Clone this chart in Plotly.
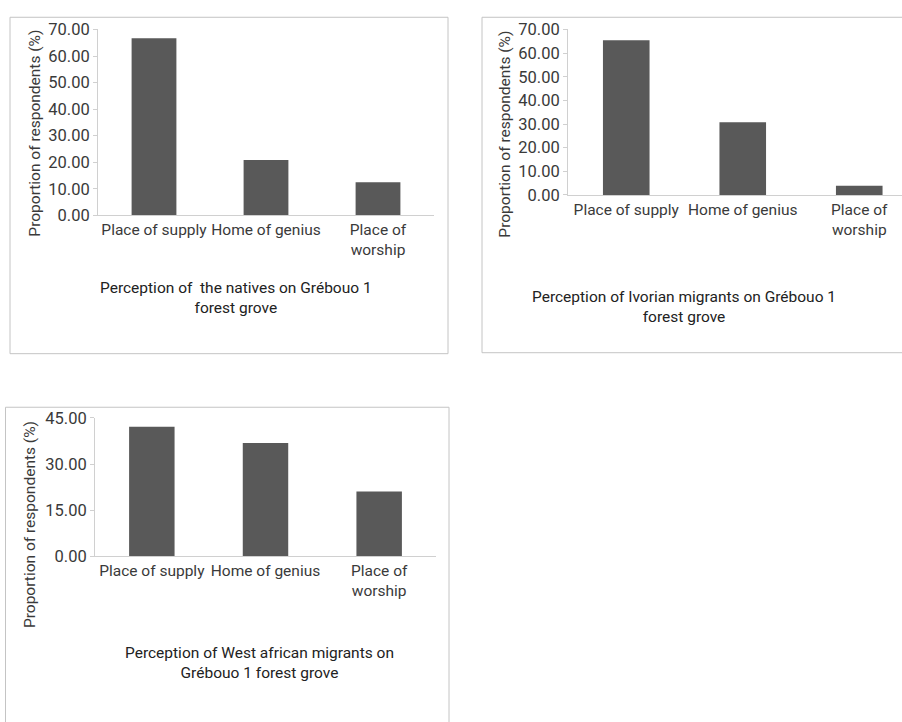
import plotly.graph_objects as go

W, H = 902, 722

def px(x):
    return x / W

def py(y):
    return 1 - y / H

# ---- data ----
categories = ["Place of supply", "Home of genius", "Place of<br>worship"]
natives = [66.67, 20.83, 12.50]
ivorian_migrants = [65.38, 30.77, 3.85]
west_african_migrants = [42.11, 36.84, 21.05]

titles = [
    "Perception of  the natives on Grébouo 1<br>forest grove",
    "Perception of Ivorian migrants on Grébouo 1<br>forest grove",
    "Perception of West african migrants on<br>Grébouo 1 forest grove",
]
y_title = "Proportion of respondents (%)"

BAR = "#595959"
TXT = "#3a3a3a"
AX = "#d0d0d0"
BOX = "#c4c4c4"
FONT = "Roboto"

fig = go.Figure()
for i, vals in enumerate([natives, ivorian_migrants, west_african_migrants]):
    sfx = "" if i == 0 else str(i + 1)
    fig.add_trace(go.Bar(x=categories, y=vals, width=0.4, marker=dict(color=BAR, line=dict(width=0)),
                         xaxis="x" + sfx, yaxis="y" + sfx, showlegend=False, hoverinfo="x+y"))

def xax(domain, rng):
    return dict(domain=domain, type="category", range=rng, showline=True, linecolor=AX, linewidth=1,
                ticks="", showgrid=False, zeroline=False,
                tickfont=dict(family=FONT, size=15.5, color=TXT), fixedrange=True)

def yax(domain, rng, dtick, anchor):
    return dict(domain=domain, range=rng, dtick=dtick, tick0=0, tickformat=".2f", showline=True,
                linecolor=AX, linewidth=1, ticks="outside", ticklen=4, tickcolor=AX,
                showgrid=False, zeroline=False, anchor=anchor,
                tickfont=dict(family=FONT, size=16.5, color=TXT), fixedrange=True)

layout = dict(
    width=W, height=H, margin=dict(l=0, r=0, t=0, b=0),
    paper_bgcolor="white", plot_bgcolor="white", bargap=0.6,
    font=dict(family=FONT, color=TXT),
    xaxis=xax([px(98), px(434)], [-0.5, 2.5]) | dict(anchor="y"),
    yaxis=yax([py(212), py(21)], [0, 70], 10, "x"),
    xaxis2=xax([px(568), 1.0], [-0.5, -0.5 + (902 - 568) / 116.5]) | dict(anchor="y2"),
    yaxis2=yax([py(191), py(21)], [0, 70], 10, "x2"),
    xaxis3=xax([px(95), px(436)], [-0.5, 2.5]) | dict(anchor="y3"),
    yaxis3=yax([py(562), py(420)], [0, 45], 15, "x3"),
)
fig.update_layout(**layout)

# panel boxes
boxes = [(10, 8.5, 448, 354), (482, 8.5, 960, 353), (5.5, 409, 449, 760)]
for x0, y0, x1, y1 in boxes:
    fig.add_shape(type="rect", xref="paper", yref="paper", x0=px(x0), x1=px(x1), y0=py(y0), y1=py(y1),
                  line=dict(color=BOX, width=1), fillcolor="rgba(0,0,0,0)", layer="below")

# chart titles (below each plot)
title_pos = [(236, 297), (684, 306), (259, 672)]
for t, (cx, cy) in zip(titles, title_pos):
    fig.add_annotation(text=t, xref="paper", yref="paper", x=px(cx), y=py(cy), showarrow=False,
                       xanchor="center", yanchor="middle", align="center",
                       font=dict(family=FONT, size=15.5, color="#222222"))

# y-axis titles
ytitle_pos = [(35, 128), (505, 128), (30, 530)]
for cx, cy in ytitle_pos:
    fig.add_annotation(text=y_title, xref="paper", yref="paper", x=px(cx), y=py(cy), showarrow=False,
                       textangle=-90, xanchor="center", yanchor="middle",
                       font=dict(family=FONT, size=15.5, color=TXT))

fig.write_html("out.html", config={"displayModeBar": False},
               post_script="document.body.style.margin='0';document.body.style.overflow='hidden';")
